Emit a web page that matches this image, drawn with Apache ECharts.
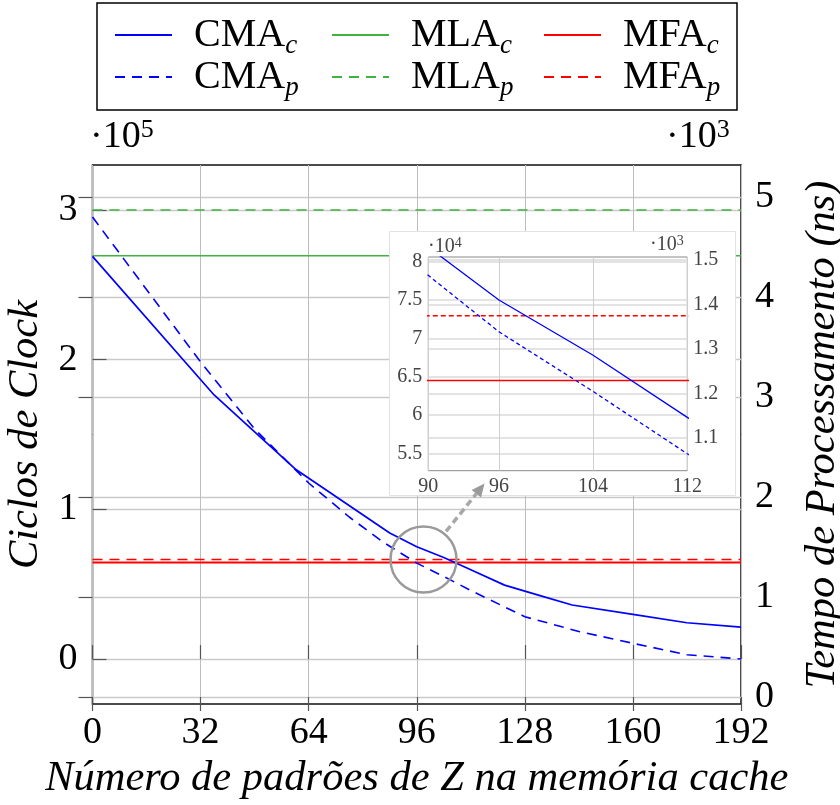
<!DOCTYPE html>
<html><head><meta charset="utf-8">
<script src="https://cdn.jsdelivr.net/npm/echarts@6/dist/echarts.min.js"></script>
<style>html,body{margin:0;padding:0;background:#fff}#c{width:840px;height:805px}</style>
</head><body><div id="c"></div>
<script>
// ---- data ----
const xTicks = [0, 32, 64, 96, 128, 160, 192];
const leftTicks = [0, 100000, 200000, 300000];
const rightTicks = [0, 1000, 2000, 3000, 4000, 5000];
const insetXTicks = [90, 96, 104, 112];
const insetLeftTicks = [55000, 60000, 65000, 70000, 75000, 80000];
const insetRightTicks = [1100, 1200, 1300, 1400, 1500];

// CMA_c : clock cycles (left axis)
const cmaCX      = [0, 36, 60, 88, 96, 104, 112, 122, 132, 142, 160, 176, 192];
const cmaCValues = [269000, 176400, 127000, 84200, 75000, 67800, 59700, 49400, 42750, 36100, 29860, 24250, 21400];
// CMA_p : processing time in ns (right axis)
const cmaPX      = [0, 32, 48, 64, 76, 86, 96, 104, 112, 128, 144, 160, 176, 192];
const cmaPValues = [4800, 3350, 2680, 2140, 1800, 1550, 1339, 1205, 1065, 803, 655, 537, 423, 380];
// constant references
const mlaCValue = 269400;
const mlaPValue = 4870;
const mfaCValue = 64500;
const mfaPValue = 1375;
const spyCenter = [98, 66500];

const FF = "'Liberation Serif','Times New Roman',serif";
const BLUE = '#0000ff', GREEN = '#3fb23f', RED = '#ff0000';

const zip = (xs, ys) => xs.map((x, i) => [x, ys[i]]);
const flat = v => [[xTicks[0], v], [xTicks[xTicks.length - 1], v]];

const chart = echarts.init(document.getElementById('c'), null, {renderer: 'canvas'});

function legendFor(names, left) {
  return {
    orient: 'vertical', left: left, top: 10, itemWidth: 57, itemHeight: 14, itemGap: -2,
    data: names, selectedMode: false,
    itemStyle: {color: 'rgba(0,0,0,0)', borderWidth: 0, opacity: 0},
    formatter: n => { const p = n.split('_'); return '{g| }{n|' + p[0] + '}{s|' + p[1] + '}'; },
    textStyle: {
      color: '#000', fontFamily: FF, fontSize: 40,
      rich: {
        g: {width: 17, fontSize: 10},
        n: {fontSize: 40, lineHeight: 48, fontFamily: FF, color: '#000'},
        s: {fontSize: 27, fontStyle: 'italic', verticalAlign: 'bottom', lineHeight: 27, fontFamily: FF, color: '#000'}
      }
    }
  };
}

const tickStyle = {inside: true, length: 14, lineStyle: {color: '#555', width: 1.2}};
const mainLabel = {color: '#000', fontFamily: FF, fontSize: 38};
const insetLabel = {color: '#444', fontFamily: FF, fontSize: 20};
const titleStyle = {fontFamily: FF, fontSize: 42.5, fontStyle: 'italic', color: '#000'};

const option = {
  animation: false,
  backgroundColor: '#fff',
  legend: [
    legendFor(['CMA_c', 'CMA_p'], 109),
    legendFor(['MLA_c', 'MLA_p'], 326),
    legendFor(['MFA_c', 'MFA_p'], 538)
  ],
  grid: [
    {left: 92.5, right: 99, top: 165, bottom: 101, show: true, borderColor: '#111', borderWidth: 1.5, backgroundColor: 'transparent', containLabel: false, outerBoundsMode: 'none'},
    {left: 428.3, right: 152.7, top: 257, bottom: 334.3, show: true, borderColor: '#888', borderWidth: 1, backgroundColor: 'transparent', z: 15, containLabel: false, outerBoundsMode: 'none'}
  ],
  xAxis: [
    {type: 'value', gridIndex: 0, position: 'bottom', min: xTicks[0], max: xTicks[xTicks.length - 1], interval: 32,
     axisLine: {show: false}, axisTick: tickStyle,
     axisLabel: Object.assign({margin: 10}, mainLabel),
     splitLine: {show: true, lineStyle: {color: '#bdbdbd', width: 1}},
     name: 'Número de padrões de Z na memória cache', nameLocation: 'middle', nameGap: 50,
     nameTextStyle: titleStyle},
    {type: 'value', gridIndex: 0, position: 'top', min: xTicks[0], max: xTicks[xTicks.length - 1], interval: 32,
     axisLine: {show: false}, axisTick: tickStyle, axisLabel: {show: false}, splitLine: {show: false}},
    {type: 'value', gridIndex: 1, position: 'bottom', min: insetXTicks[0], max: insetXTicks[insetXTicks.length - 1], z: 15,
     axisLine: {show: false}, axisTick: {show: false, customValues: insetXTicks},
     axisLabel: Object.assign({margin: 6, customValues: insetXTicks}, insetLabel),
     splitLine: {show: true, lineStyle: {color: '#cfcfcf', width: 1}}}
  ],
  yAxis: [
    {type: 'value', gridIndex: 0, position: 'left', min: -30000, max: 330000,
     axisLine: {show: false}, axisTick: Object.assign({customValues: leftTicks}, tickStyle),
     axisLabel: Object.assign({margin: 15, customValues: leftTicks, formatter: v => String(v / 100000)}, mainLabel),
     splitLine: {show: true, lineStyle: {color: '#cacaca', width: 1.3}},
     name: 'Ciclos de Clock', nameLocation: 'middle', nameRotate: 90, nameGap: 34,
     nameTextStyle: titleStyle},
    {type: 'value', gridIndex: 0, position: 'right', min: -70, max: 5320,
     axisLine: {show: false}, axisTick: Object.assign({customValues: rightTicks}, tickStyle),
     axisLabel: Object.assign({margin: 14, customValues: rightTicks, formatter: v => String(v / 1000)}, mainLabel),
     splitLine: {show: true, lineStyle: {color: '#cacaca', width: 1.3}},
     name: 'Tempo de Processamento (ns)', nameLocation: 'middle', nameRotate: 90, nameGap: 60,
     nameTextStyle: titleStyle},
    {type: 'value', gridIndex: 1, position: 'left', min: 52750, max: 80610, z: 15,
     axisLine: {show: false}, axisTick: {show: false, customValues: insetLeftTicks},
     axisLabel: Object.assign({margin: 6, customValues: insetLeftTicks, formatter: v => String(v / 10000)}, insetLabel),
     splitLine: {show: true, lineStyle: {color: '#e3e3e3', width: 2}}},
    {type: 'value', gridIndex: 1, position: 'right', min: 1027, max: 1507, z: 15,
     axisLine: {show: false}, axisTick: {show: false, customValues: insetRightTicks},
     axisLabel: Object.assign({margin: 6, customValues: insetRightTicks, formatter: v => String(v / 1000)}, insetLabel),
     splitLine: {show: true, lineStyle: {color: '#e3e3e3', width: 2}}}
  ],
  series: [
    {name: 'MLA_c', type: 'line', xAxisIndex: 0, yAxisIndex: 0, data: flat(mlaCValue), symbol: 'none', lineStyle: {color: GREEN, width: 1.6}, itemStyle: {color: GREEN}},
    {name: 'MLA_p', type: 'line', xAxisIndex: 0, yAxisIndex: 1, data: flat(mlaPValue), symbol: 'none', lineStyle: {color: GREEN, width: 1.6, type: [10, 7]}, itemStyle: {color: GREEN}},
    {name: 'MFA_c', type: 'line', xAxisIndex: 0, yAxisIndex: 0, data: flat(mfaCValue), symbol: 'none', lineStyle: {color: RED, width: 1.8}, itemStyle: {color: RED}},
    {name: 'MFA_p', type: 'line', xAxisIndex: 0, yAxisIndex: 1, data: flat(mfaPValue), symbol: 'none', lineStyle: {color: RED, width: 1.6, type: [10, 7]}, itemStyle: {color: RED}},
    {name: 'CMA_c', type: 'line', xAxisIndex: 0, yAxisIndex: 0, data: zip(cmaCX, cmaCValues), symbol: 'none', lineStyle: {color: BLUE, width: 1.7}, itemStyle: {color: BLUE}},
    {name: 'CMA_p', type: 'line', xAxisIndex: 0, yAxisIndex: 1, data: zip(cmaPX, cmaPValues), symbol: 'none', lineStyle: {color: BLUE, width: 1.6, type: [10, 7]}, itemStyle: {color: BLUE}},
    // inset
    {name: 'MFA_c', type: 'line', xAxisIndex: 2, yAxisIndex: 2, data: flat(mfaCValue), symbol: 'none', z: 20, lineStyle: {color: RED, width: 1.4}},
    {name: 'MFA_p', type: 'line', xAxisIndex: 2, yAxisIndex: 3, data: flat(mfaPValue), symbol: 'none', z: 20, lineStyle: {color: RED, width: 1.4, type: [5, 3]}},
    {name: 'CMA_c', type: 'line', xAxisIndex: 2, yAxisIndex: 2, data: zip(cmaCX, cmaCValues), symbol: 'none', z: 20, lineStyle: {color: BLUE, width: 1.3}},
    {name: 'CMA_p', type: 'line', xAxisIndex: 2, yAxisIndex: 3, data: zip(cmaPX, cmaPValues), symbol: 'none', z: 20, lineStyle: {color: BLUE, width: 1.3, type: [4, 3]}}
  ]
};
chart.setOption(option);

// ---- decorations: legend frame, exponents, inset box, spy circle and arrow ----
const c = chart.convertToPixel({xAxisIndex: 0, yAxisIndex: 0}, spyCenter);
const R = 33;
const tip = [c[0] + 61, c[1] - 76];
const dx = tip[0] - c[0], dy = tip[1] - c[1], L = Math.hypot(dx, dy);
const ux = dx / L, uy = dy / L;
const start = [c[0] + ux * (R + 3), c[1] + uy * (R + 3)];
const headBase = [tip[0] - ux * 13, tip[1] - uy * 13];
const px = -uy, py = ux;

function expText(x, y, base, exp, big, small, color) {
  return {type: 'text', x: x, y: y, z: 30, style: {
    text: '{a|' + base + '}{b|' + exp + '}', fill: color,
    rich: {a: {fontFamily: FF, fontSize: big, lineHeight: big + 2, fill: color, color: color},
           b: {fontFamily: FF, fontSize: small, lineHeight: small, verticalAlign: 'top', fill: color, color: color}}
  }};
}

chart.setOption({graphic: [
  {type: 'rect', z: 30, shape: {x: 97, y: 3, width: 640, height: 107}, style: {fill: 'none', stroke: '#000', lineWidth: 1.5}},
  expText(90, 117, '·10', '5', 38, 26, '#000'),
  expText(666, 117, '·10', '3', 38, 26, '#000'),
  {type: 'rect', z: 10, shape: {x: 389.5, y: 231.5, width: 346, height: 264}, style: {fill: '#fff', stroke: '#e2e2e2', lineWidth: 1}},
  expText(428, 236, '·10', '4', 20, 14, '#444'),
  expText(650, 234, '·10', '3', 20, 14, '#444'),
  {type: 'circle', z: 25, shape: {cx: c[0], cy: c[1], r: R}, style: {fill: 'none', stroke: '#9a9a9a', lineWidth: 2.5}},
  {type: 'line', z: 25, shape: {x1: start[0], y1: start[1], x2: headBase[0], y2: headBase[1]}, style: {stroke: '#a8a8a8', lineWidth: 3.5, lineDash: [7, 4]}},
  {type: 'polygon', z: 25, shape: {points: [tip, [headBase[0] + px * 6, headBase[1] + py * 6], [headBase[0] - px * 6, headBase[1] - py * 6]]}, style: {fill: '#9a9a9a'}}
]});
</script></body></html>
